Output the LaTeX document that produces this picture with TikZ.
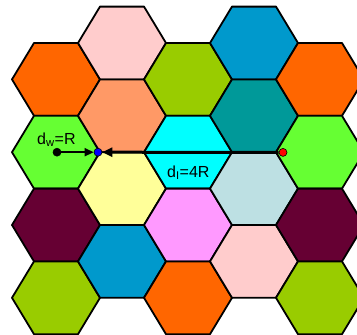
\documentclass[tikz,border=0pt]{standalone}
\usepackage{fontspec}
\setmainfont{Liberation Sans}
\usetikzlibrary{arrows.meta}

\definecolor{hexorange}{HTML}{FF6600}
\definecolor{hexpink}{HTML}{FFCCCC}
\definecolor{hexolive}{HTML}{99CC00}
\definecolor{hexblue}{HTML}{0099CC}
\definecolor{hexsalmon}{HTML}{FF9966}
\definecolor{hexteal}{HTML}{009999}
\definecolor{hexgreen}{HTML}{66FF33}
\definecolor{hexcyan}{HTML}{00FFFF}
\definecolor{hexyellow}{HTML}{FFFF99}
\definecolor{hexgrey}{HTML}{BDE0E3}
\definecolor{hexmaroon}{HTML}{660033}
\definecolor{hexviolet}{HTML}{FF99FF}

\begin{document}
\begin{tikzpicture}[x=1pt,y=-1pt,
  cell/.style={draw=black,line width=1.8pt,line join=round},
  dot/.style={circle,inner sep=0pt,minimum size=8pt,draw=black,line width=0.6pt},
  lbl/.style={font=\fontsize{16}{18}\selectfont,anchor=base west,inner sep=0pt}]
\useasboundingbox (0,0) rectangle (357,335);
\clip (0,0) rectangle (357,335);
% cells, column by column
\foreach \cx/\cy/\col in {56/79.4/hexorange, 56/152.2/hexgreen, 56/225/hexmaroon, 56/297.8/hexolive,
    122/43/hexpink, 122/115.8/hexsalmon, 122/188.6/hexyellow, 122/261.4/hexblue,
    188/79.4/hexolive, 188/152.2/hexcyan, 188/225/hexviolet, 188/297.8/hexorange,
    254/43/hexblue, 254/115.8/hexteal, 254/188.6/hexgrey, 254/261.4/hexpink,
    320/79.4/hexorange, 320/152.2/hexgreen, 320/225/hexmaroon, 320/297.8/hexolive}
  \draw [cell,fill=\col] (\cx,\cy) +(-44,0) -- +(-22,-36.4) -- +(22,-36.4) -- +(44,0)
    -- +(22,36.4) -- +(-22,36.4) -- cycle;
% distances
\node [dot,fill=black] (src) at (57,152.2) {};
\node [dot,fill=blue] (edge) at (98,152.2) {};
\node [dot,fill=red] (dst) at (283,152.4) {};
\draw [-{Triangle[length=9pt,width=8pt]},line width=1.6pt] (src) -- (edge);
\draw [-{Triangle[length=10pt,width=9pt]},line width=3pt] (dst) -- (edge);
\node [lbl] (dw) at (37,144) {d\textsubscript{w}=R};
\node [lbl] (di) at (167,177) {d\textsubscript{I}=4R};
\end{tikzpicture}
\end{document}
